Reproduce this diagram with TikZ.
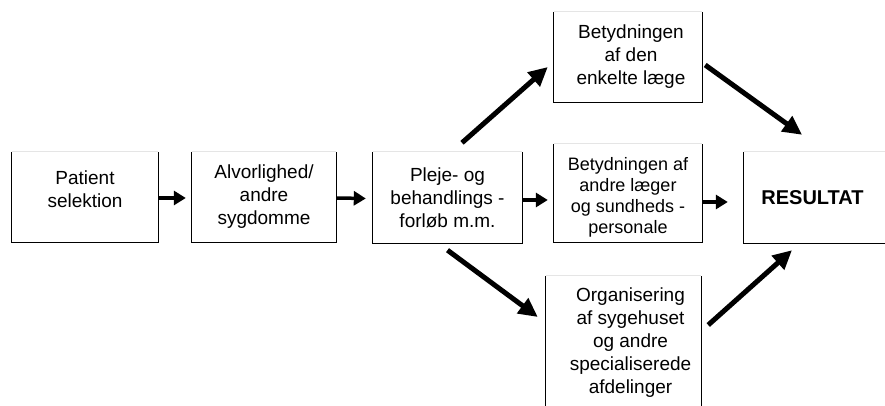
\documentclass[tikz,border=0pt]{standalone}
\usepackage{fontspec}
\setmainfont{Liberation Sans}
\usetikzlibrary{arrows.meta}
\begin{document}
\begin{tikzpicture}[x=1pt,y=1pt,
  box/.style={draw=none, inner sep=0pt, align=center,
    font=\fontsize{19}{23}\selectfont},
  sides/.style={line width=1.2pt, black},
  topedge/.style={line width=1pt, black!10},
  harr/.style={line width=3.5pt, -{Triangle[length=12pt,width=14pt]}},
  darr/.style={line width=5pt, -{Triangle[length=19pt,width=18pt]}}]
\clip (0,0) rectangle (885,406);
\fill[white] (0,0) rectangle (885,406);
% boxes
\node[box, minimum width=146pt, minimum height=90pt] (b1) at (85,209) {Patient\\selektion\\[-15pt]\strut};
\node[box, minimum width=144pt, minimum height=90pt] (b2) at (264,209) {Alvorlighed/\\andre\\sygdomme};
\node[box, minimum width=149pt, minimum height=91pt] (b3) at (447.5,208.5) {Pleje- og\\behandlings -\\forløb m.m.};
\node[box, minimum width=148pt, minimum height=98pt, font=\fontsize{18}{21}\selectfont] (b4) at (628,213) {\rule{0pt}{21pt}Betydningen af\\andre læger\\og sundheds -\\personale};
\node[box, minimum width=148pt, minimum height=90pt] (top) at (628,349) {\hspace*{6pt}Betydningen\\\hspace*{6pt}af den\\\hspace*{6pt}enkelte læge};
\node[box, minimum width=155pt, minimum height=134pt] (bot) at (623.5,63) {\hspace*{14pt}Organisering\\\hspace*{14pt}af sygehuset\\\hspace*{14pt}og andre\\\hspace*{14pt}specialiserede\\\hspace*{14pt}afdelinger};
\node[box, minimum width=151pt, minimum height=91pt, font=\fontsize{20}{24}\selectfont\bfseries] (res) at (819.5,208.5) {\hspace*{-14pt}RESULTAT};
% box outlines: left, bottom, right solid; top faint
\foreach \n in {b1,b2,b3,b4,top,bot,res}{
  \draw[sides] (\n.north west) -- (\n.south west) -- (\n.south east) -- (\n.north east);
  \draw[topedge] (\n.north west) -- (\n.north east);
}
% horizontal arrows
\draw[harr] ([yshift=-1pt]b1.east) -- ([shift={(-6pt,-1pt)}]b2.west);
\draw[harr] ([yshift=-1pt]b2.east) -- ([shift={(-7pt,-1pt)}]b3.west);
\draw[harr] ([yshift=-2.5pt]b3.east) -- ([shift={(-6pt,-7pt)}]b4.west);
\draw[harr] ([yshift=-9pt]b4.east) -- ([shift={(-16pt,-4.5pt)}]res.west);
% diagonal arrows
\draw[darr] ([shift={(14.5pt,9pt)}]b3.north) -- ([shift={(-6pt,-10pt)}]top.west);
\draw[darr] ([shift={(3pt,-8pt)}]top.east) -- ([shift={(-17.5pt,17pt)}]res.north);
\draw[darr] ([shift={(0pt,-7pt)}]b3.south) -- ([shift={(-8pt,26pt)}]bot.west);
\draw[darr] ([shift={(7pt,18pt)}]bot.east) -- ([shift={(-27.5pt,-7pt)}]res.south);
\end{tikzpicture}
\end{document}
